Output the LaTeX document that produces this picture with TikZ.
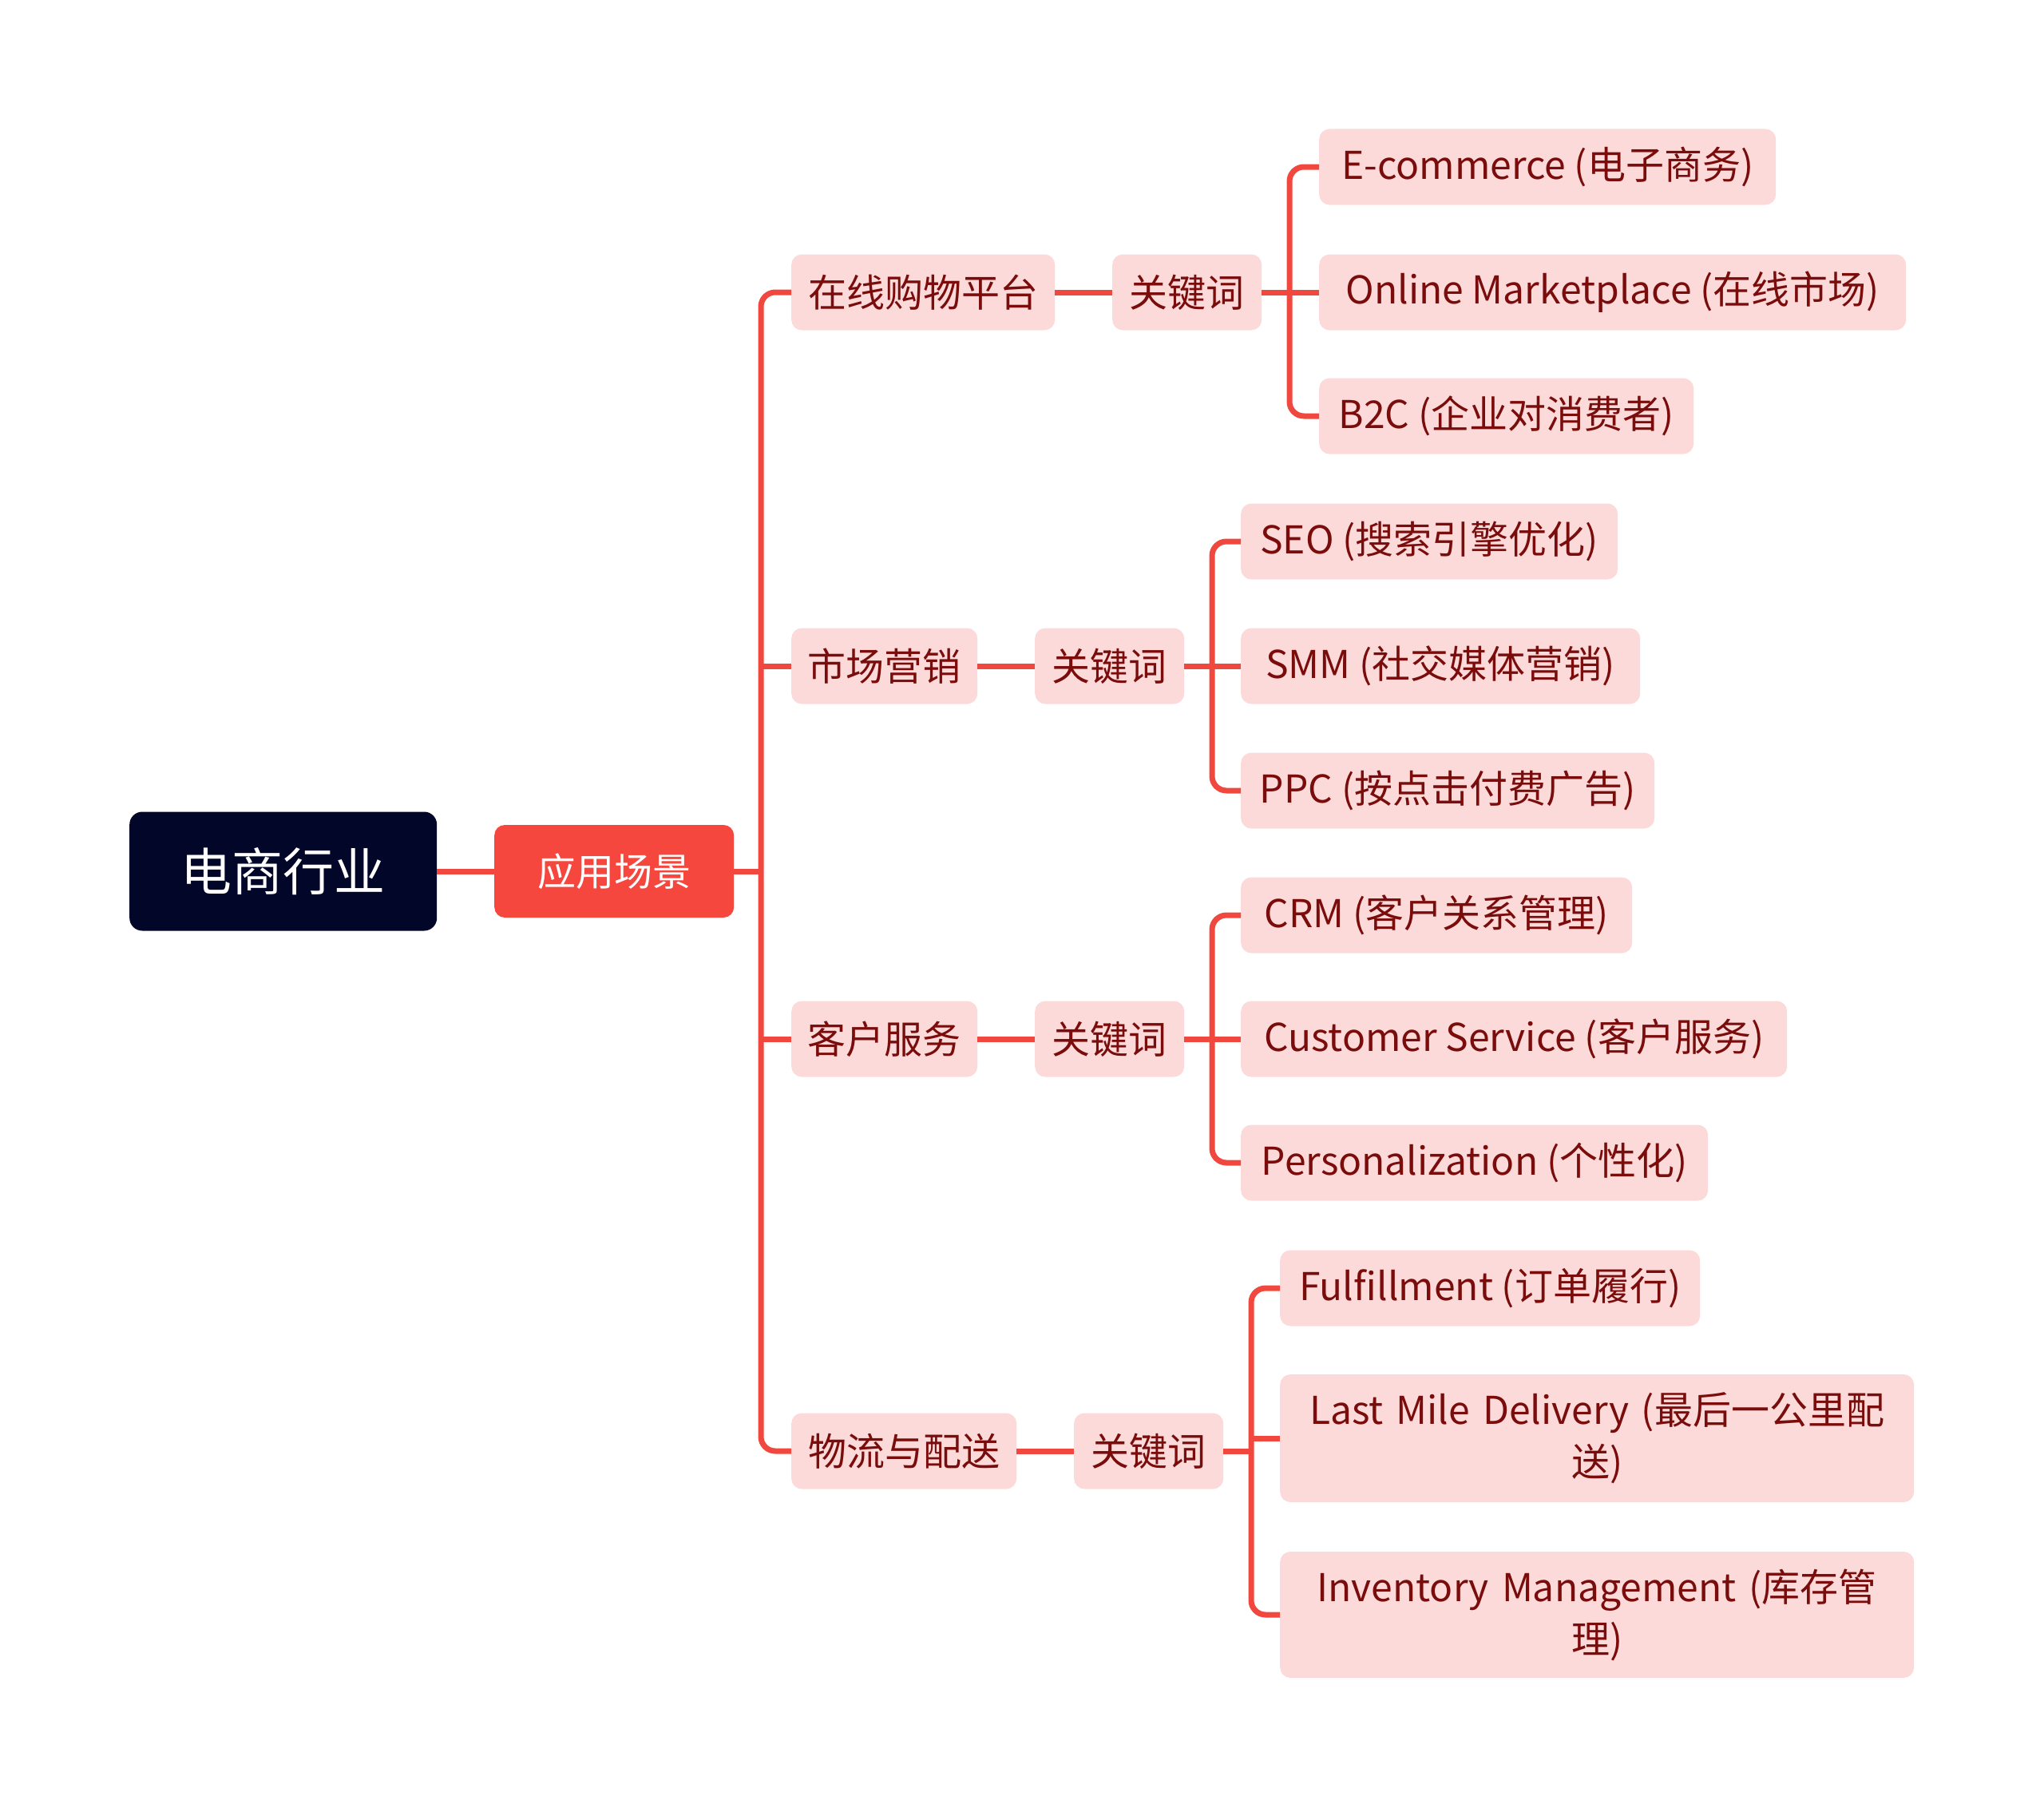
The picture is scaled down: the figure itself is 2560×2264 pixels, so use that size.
\documentclass[tikz,border=0pt]{standalone}
\usepackage{fontspec}
\setmainfont{Noto Sans CJK SC}
\definecolor{ln}{HTML}{F0473E}
\definecolor{pk}{HTML}{FCDADA}
\definecolor{tx}{HTML}{7A0C0C}
\definecolor{rootc}{HTML}{020628}
\definecolor{mainc}{HTML}{F5473D}
\begin{document}
\begin{tikzpicture}[x=1pt,y=-1pt,
  base/.style={rounded corners=13pt, inner sep=0pt, anchor=west, minimum height=95pt, font=\fontsize{48}{65}\selectfont},
  leaf/.style={base, fill=pk, text=tx},
  twoline/.style={leaf, align=center, text width=740pt, minimum width=794pt},
  conn/.style={draw=ln, line width=7pt, rounded corners=18pt}]
\useasboundingbox (0,0) rectangle (2560,2264);
% root and main
\node[base, fill=rootc, text=white, minimum width=385pt, minimum height=149pt, rounded corners=16pt, font=\fontsize{64}{77}\selectfont] (root) at (162,1091) {电商行业};
\node[base, fill=mainc, text=white, minimum width=300pt, minimum height=116pt] (main) at (619,1091) {应用场景};
% level 2
\node[leaf, minimum width=330pt] (a) at (991,366) {在线购物平台};
\node[leaf, minimum width=233pt] (b) at (991,834) {市场营销};
\node[leaf, minimum width=233pt] (c) at (991,1301) {客户服务};
\node[leaf, minimum width=282pt] (d) at (991,1817) {物流与配送};
% level 3
\node[leaf, minimum width=187pt] (ak) at (1393,366) {关键词};
\node[leaf, minimum width=187pt] (bk) at (1296,834) {关键词};
\node[leaf, minimum width=187pt] (ck) at (1296,1301) {关键词};
\node[leaf, minimum width=187pt] (dk) at (1345,1817) {关键词};
% leaves
\node[leaf, minimum width=572pt] (a1) at (1652,209) {E-commerce (电子商务)};
\node[leaf, minimum width=735pt] (a2) at (1652,366) {Online Marketplace (在线市场)};
\node[leaf, minimum width=469pt] (a3) at (1652,521) {B2C (企业对消费者)};
\node[leaf, minimum width=472pt] (b1) at (1554,678) {SEO (搜索引擎优化)};
\node[leaf, minimum width=500pt] (b2) at (1554,834) {SMM (社交媒体营销)};
\node[leaf, minimum width=518pt] (b3) at (1554,990) {PPC (按点击付费广告)};
\node[leaf, minimum width=490pt] (c1) at (1554,1146) {CRM (客户关系管理)};
\node[leaf, minimum width=684pt] (c2) at (1554,1301) {Customer Service (客户服务)};
\node[leaf, minimum width=585pt] (c3) at (1554,1456) {Personalization (个性化)};
\node[leaf, minimum width=526pt] (d1) at (1603,1613) {Fulfillment (订单履行)};
\node[twoline, minimum height=160pt] (d2) at (1603,1801) {Last Mile Delivery (最后一公里配\\送)};
\node[twoline, minimum height=158pt] (d3) at (1603,2022) {Inventory Management (库存管\\理)};
% junction coordinates
\coordinate (tx) at (953,1091);
\coordinate (ax) at (1615,366);
\coordinate (bx) at (1518,834);
\coordinate (cx) at (1518,1301);
\coordinate (dx) at (1567,1817);
% connectors
\draw[conn] (root.east) -- (main.west);
\draw[conn] (main.east) -- (tx);
\draw[conn] (a.west) -- (a.west -| tx) -- (d.west -| tx) -- (d.west);
\draw[conn] (b.west -| tx) -- (b.west);
\draw[conn] (c.west -| tx) -- (c.west);
\draw[conn] (a.east) -- (ak.west);
\draw[conn] (b.east) -- (bk.west);
\draw[conn] (c.east) -- (ck.west);
\draw[conn] (d.east) -- (dk.west);
% group a
\draw[conn] (ak.east) -- (ax);
\draw[conn] (a1.west) -- (a1.west -| ax) -- (a3.west -| ax) -- (a3.west);
\draw[conn] (a2.west -| ax) -- (a2.west);
% group b
\draw[conn] (bk.east) -- (bx);
\draw[conn] (b1.west) -- (b1.west -| bx) -- (b3.west -| bx) -- (b3.west);
\draw[conn] (b2.west -| bx) -- (b2.west);
% group c
\draw[conn] (ck.east) -- (cx);
\draw[conn] (c1.west) -- (c1.west -| cx) -- (c3.west -| cx) -- (c3.west);
\draw[conn] (c2.west -| cx) -- (c2.west);
% group d
\draw[conn] (dk.east) -- (dx);
\draw[conn] (d1.west) -- (d1.west -| dx) -- (d3.west -| dx) -- (d3.west);
\draw[conn] (d2.west -| dx) -- (d2.west);
\end{tikzpicture}
\end{document}
